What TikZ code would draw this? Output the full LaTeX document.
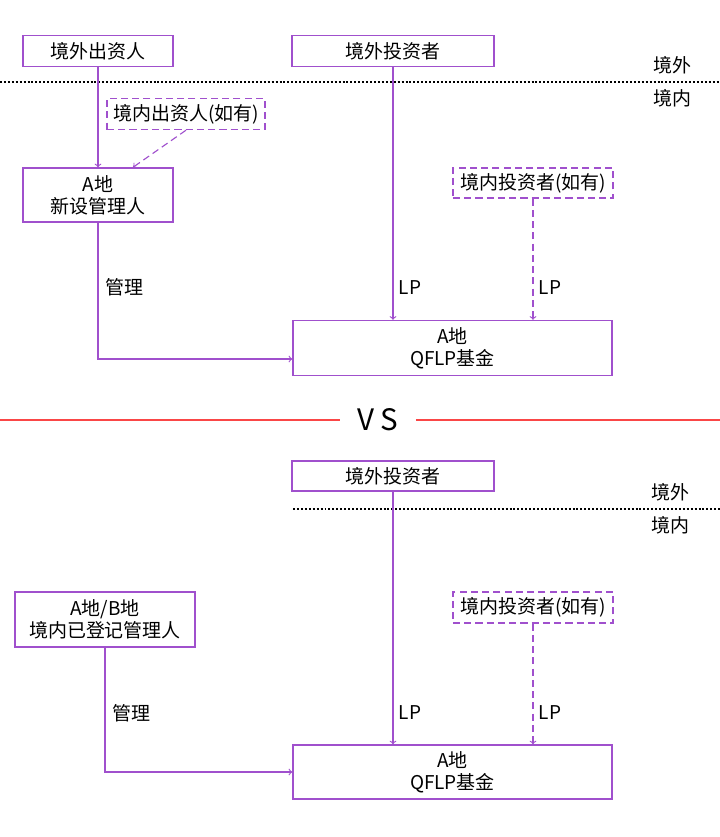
\documentclass[tikz,border=0pt]{standalone}
\usepackage{fontspec}
\setmainfont{Noto Sans CJK SC}
\usetikzlibrary{calc}
\definecolor{boxpurple}{RGB}{160,80,205}
\definecolor{vsred}{RGB}{250,70,70}
\begin{document}
\begin{tikzpicture}[
	x=0.025cm, y=-0.025cm,
	every node/.style={font=\fontsize{13.5}{15.6}\selectfont},
	cell/.style={
		rectangle,
		draw=boxpurple,
		line width=1pt,
		align=center,
		inner sep=0pt,
	},
	optcell/.style={% optional domestic parties
		cell,
		dashed,
		dash pattern=on 5pt off 3pt,
	},
	ArrowC1/.style={
		draw=boxpurple,
		line width=0.8pt,
		->,
	},
	ArrowC2/.style={
		ArrowC1,
		dash pattern=on 5pt off 3pt,
	},
	border/.style={
		black,
		line width=1.4pt,
		dash pattern=on 1.4pt off 1.4pt,
	},
]
	\useasboundingbox (0,0) rectangle (720,837);

	% first case: new manager in A
	\node [cell, minimum width=3.75cm, minimum height=0.775cm] (ovInv1) at (98,51) {境外出资人};
	\node [cell, minimum width=5.05cm, minimum height=0.775cm] (ovInv2) at (393,51) {境外投资者};
	\node [optcell, minimum width=3.95cm, minimum height=0.775cm] (dmInv1) at (186,114) {境内出资人(如有)};
	\node [cell, minimum width=3.75cm, minimum height=1.35cm] (mgrA) at (98,195) {A地\\新设管理人};
	\node [optcell, minimum width=4cm, minimum height=0.75cm] (dmInv2) at (533,183) {境内投资者(如有)};
	\node [cell, minimum width=7.975cm, minimum height=1.375cm] (fundA) at (452.5,348) {A地\\QFLP基金};

	\node (out1) at (672,65) {境外};
	\node (in1) at (672,98) {境内};
	\coordinate (sepL1) at (0,82);
	\coordinate (sepR1) at (720,82);
	\draw [border] (sepL1) -- (sepR1);

	\draw [ArrowC1] (ovInv1) -- (mgrA);
	\draw [ArrowC2] (dmInv1.south) -- ([xshift=0.875cm]mgrA.north);
	\draw [ArrowC1] (ovInv2.south) -- (ovInv2.south |- fundA.north);
	\draw [ArrowC2] (dmInv2.south) -- (dmInv2.south |- fundA.north);
	\draw [ArrowC1] (mgrA.south) |- ([yshift=-0.275cm]fundA.west);

	\node (lp1) at (410,288) {LP};
	\node (lp2) at (550,288) {LP};
	\node (mg1) at (124,287) {管理};

	% VS
	\node [font=\fontsize{21}{24}\selectfont, inner xsep=12pt] (vs) at (378,420) {V S};
	\coordinate (vsL) at (0,420);
	\coordinate (vsR) at (720,420);
	\draw [vsred, line width=1pt] (vsL) -- (vs.west);
	\draw [vsred, line width=1pt] (vs.east) -- (vsR);

	% second case: registered manager in A/B
	\node [cell, minimum width=5.05cm, minimum height=0.75cm] (ovInv3) at (393,476) {境外投资者};
	\node [cell, minimum width=4.5cm, minimum height=1.375cm] (mgrB) at (105,619.5) {A地/B地\\境内已登记管理人};
	\node [optcell, minimum width=4cm, minimum height=0.775cm] (dmInv3) at (533,607.5) {境内投资者(如有)};
	\node [cell, minimum width=7.975cm, minimum height=1.35cm] (fundB) at (452.5,772) {A地\\QFLP基金};

	\node (out2) at (670,492) {境外};
	\node (in2) at (670,525) {境内};
	\coordinate (sepL2) at (293,509);
	\coordinate (sepR2) at (720,509);
	\draw [border] (sepL2) -- (sepR2);

	\draw [ArrowC1] (ovInv3.south) -- (ovInv3.south |- fundB.north);
	\draw [ArrowC2] (dmInv3.south) -- (dmInv3.south |- fundB.north);
	\draw [ArrowC1] (mgrB.south) |- (fundB.west);

	\node (lp3) at (410,713) {LP};
	\node (lp4) at (550,713) {LP};
	\node (mg2) at (131,713) {管理};
\end{tikzpicture}
\end{document}
